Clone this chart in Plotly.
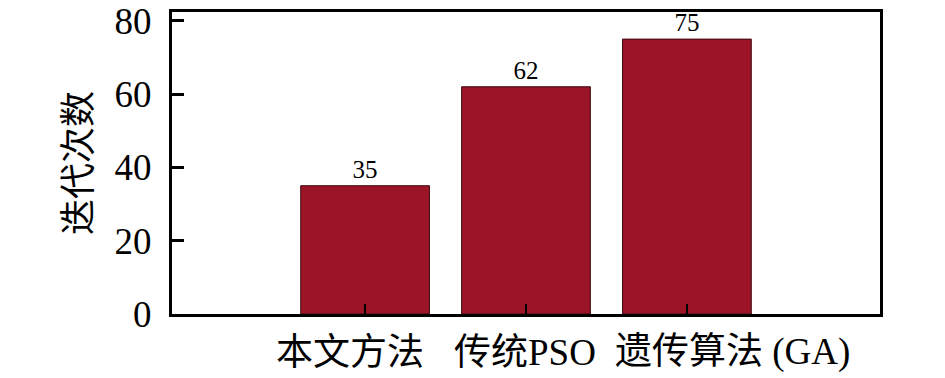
import plotly.graph_objects as go

categories = ["本文方法", "传统PSO", "遗传算法 (GA)"]
iterations = [35, 62, 75]
y_ticks = [0, 20, 40, 60, 80]
label_xshift = [-15, -1, 46]  # horizontal offset of each category label (style)

FONT = "Liberation Serif, Times New Roman, Noto Sans CJK SC, serif"

fig = go.Figure(
    go.Bar(
        x=categories,
        y=iterations,
        width=0.8,
        marker=dict(color="#9b1427", line=dict(color="#3a0a10", width=1)),
        text=[str(v) for v in iterations],
        textposition="outside",
        textfont=dict(family=FONT, size=25, color="black"),
        cliponaxis=False,
    )
)

fig.update_layout(
    width=945,
    height=378,
    margin=dict(l=172, r=65, t=12, b=64, autoexpand=False),
    plot_bgcolor="white",
    paper_bgcolor="white",
    font=dict(family=FONT, color="black"),
    showlegend=False,
    bargap=0.2,
)

for cat, dx in zip(categories, label_xshift):
    fig.add_annotation(
        x=cat, xref="x", y=0, yref="paper",
        text=cat, showarrow=False,
        xanchor="center", yanchor="middle",
        xshift=dx, yshift=-38,
        font=dict(family=FONT, size=37, color="black"),
    )

fig.update_xaxes(
    type="category",
    range=[-1.2, 3.2],
    showticklabels=False,
    automargin=False,
    ticks="inside",
    ticklen=10,
    tickwidth=2,
    tickcolor="black",
    showline=True,
    linecolor="black",
    linewidth=3,
    mirror=True,
    showgrid=False,
    zeroline=False,
)

fig.update_yaxes(
    range=[0, 82.4],
    tickmode="array",
    tickvals=y_ticks,
    ticktext=[str(v) for v in y_ticks],
    automargin=False,
    ticklabeloverflow="allow",
    ticks="inside",
    ticklen=12,
    tickwidth=3,
    tickcolor="black",
    tickfont=dict(family=FONT, size=37, color="black"),
    showline=True,
    linecolor="black",
    linewidth=3,
    mirror=True,
    showgrid=False,
    zeroline=False,
    ticklabelstandoff=10,
    title=dict(text="迭代次数", font=dict(family=FONT, size=36, color="black"), standoff=12),
)

fig.write_html(
    "out.html",
    config={"displayModeBar": False},
    post_script="document.body.style.margin='0';document.body.style.overflow='hidden';",
)
